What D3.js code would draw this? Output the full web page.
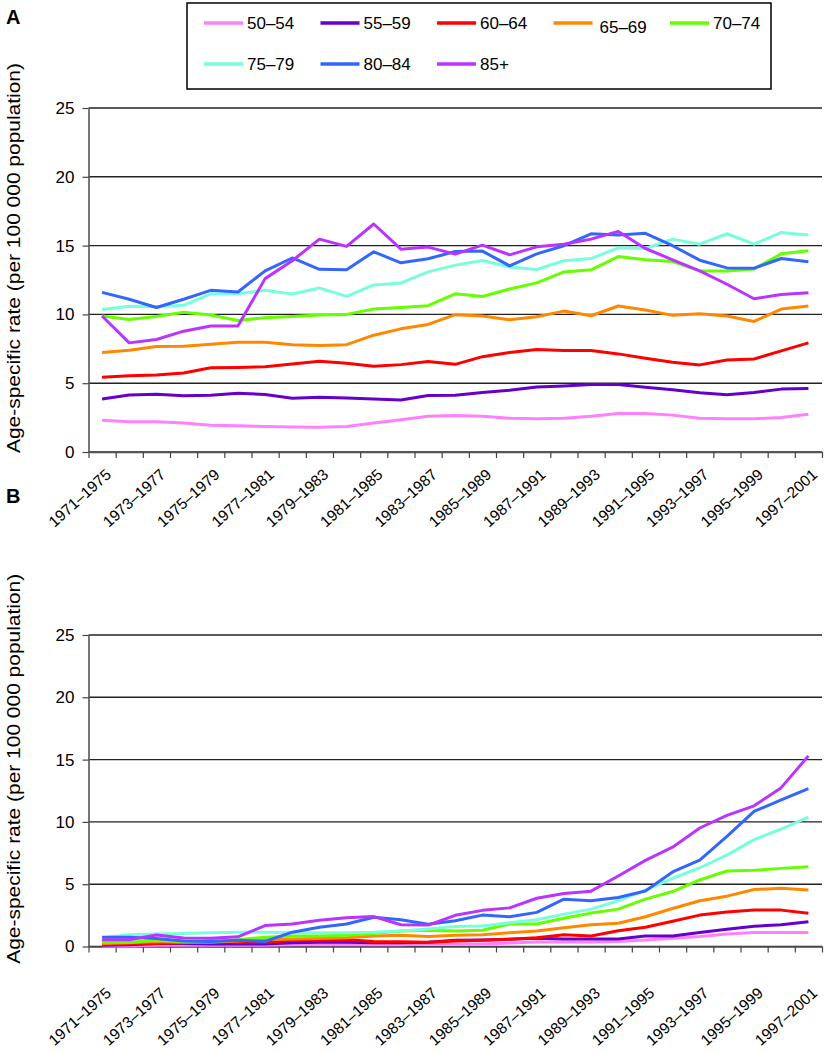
<!DOCTYPE html>
<html><head><meta charset="utf-8">
<script src="https://cdn.jsdelivr.net/npm/d3@7/dist/d3.min.js"></script>
<style>
body{margin:0;background:#fff;}
text{font-family:"Liberation Sans",Arial,Helvetica,sans-serif;fill:#000;}
</style></head>
<body>
<svg id="chart" width="825" height="1052"></svg>
<script>
const categories = ["1971–1975","1972–1976","1973–1977","1974–1978","1975–1979","1976–1980","1977–1981","1978–1982","1979–1983","1980–1984","1981–1985","1982–1986","1983–1987","1984–1988","1985–1989","1986–1990","1987–1991","1988–1992","1989–1993","1990–1994","1991–1995","1992–1996","1993–1997","1994–1998","1995–1999","1996–2000","1997–2001"];
const seriesNames = ["50–54","55–59","60–64","65–69","70–74","75–79","80–84","85+"];
const seriesColors = ["#ff80ff","#6600cc","#ff0000","#ff8800","#66ff00","#77ffdd","#3366ff","#bb33ff"];
const yTicks = [0,5,10,15,20,25];
const yTitle = "Age-specific rate (per 100 000 population)";

// Panel A values
const a50 = [2.3,2.2,2.2,2.1,1.95,1.9,1.85,1.82,1.8,1.85,2.1,2.35,2.6,2.65,2.6,2.45,2.42,2.45,2.6,2.8,2.8,2.68,2.45,2.42,2.42,2.5,2.75];
const a55 = [3.85,4.15,4.2,4.08,4.13,4.27,4.18,3.9,3.97,3.92,3.85,3.78,4.1,4.13,4.33,4.48,4.72,4.79,4.9,4.9,4.7,4.53,4.31,4.16,4.33,4.57,4.62];
const a60 = [5.43,5.55,5.6,5.74,6.12,6.15,6.2,6.4,6.6,6.45,6.23,6.35,6.57,6.37,6.93,7.23,7.45,7.37,7.37,7.13,6.81,6.52,6.33,6.69,6.76,7.35,7.93];
const a65 = [7.23,7.4,7.66,7.69,7.83,7.98,7.98,7.79,7.74,7.8,8.49,8.95,9.27,9.98,9.88,9.61,9.83,10.24,9.9,10.61,10.32,9.93,10.05,9.88,9.49,10.39,10.61];
const a70 = [9.88,9.63,9.85,10.15,9.95,9.56,9.76,9.85,9.95,10.0,10.39,10.51,10.63,11.5,11.3,11.85,12.29,13.09,13.24,14.2,13.97,13.84,13.16,13.16,13.3,14.4,14.62];
const a75 = [10.36,10.6,10.56,10.66,11.5,11.5,11.75,11.48,11.92,11.31,12.14,12.29,13.09,13.58,13.92,13.45,13.26,13.9,14.06,14.84,14.79,15.47,15.1,15.86,15.1,15.96,15.77];
const a80 = [11.6,11.1,10.5,11.1,11.75,11.63,13.16,14.1,13.28,13.24,14.55,13.75,14.04,14.57,14.6,13.53,14.4,14.99,15.86,15.77,15.89,14.99,13.94,13.38,13.36,14.06,13.82];
const a85 = [9.88,7.93,8.18,8.78,9.15,9.15,12.6,13.9,15.47,14.94,16.57,14.74,14.89,14.38,15.04,14.33,14.91,15.1,15.47,16.03,14.79,13.97,13.16,12.19,11.14,11.44,11.58];

// Panel B values
const b50 = [0.05,0.05,0.1,0.1,0.1,0.1,0.1,0.15,0.15,0.15,0.15,0.15,0.2,0.21,0.21,0.29,0.37,0.37,0.37,0.4,0.53,0.66,0.8,1.0,1.12,1.12,1.12];
const b55 = [0.1,0.15,0.25,0.25,0.2,0.2,0.2,0.3,0.35,0.35,0.3,0.3,0.35,0.5,0.53,0.58,0.66,0.61,0.61,0.61,0.85,0.85,1.12,1.38,1.62,1.75,1.99];
const b60 = [0.15,0.2,0.25,0.3,0.45,0.35,0.35,0.5,0.5,0.55,0.4,0.38,0.35,0.45,0.5,0.58,0.7,0.95,0.85,1.27,1.54,2.02,2.52,2.76,2.92,2.92,2.66];
const b65 = [0.25,0.3,0.4,0.35,0.35,0.45,0.55,0.6,0.65,0.7,0.85,0.9,0.8,0.9,0.95,1.1,1.25,1.5,1.75,1.86,2.39,3.05,3.67,4.04,4.57,4.67,4.54];
const b70 = [0.35,0.35,0.5,0.4,0.4,0.55,0.75,0.85,0.85,0.9,1.05,1.25,1.3,1.25,1.3,1.8,1.8,2.27,2.68,3.0,3.8,4.41,5.34,6.06,6.11,6.27,6.4];
const b75 = [0.7,0.95,1.0,1.05,1.1,1.15,1.15,1.1,1.1,1.1,1.15,1.25,1.4,1.6,1.65,1.9,2.15,2.6,3.0,3.67,4.52,5.47,6.32,7.33,8.58,9.43,10.39];
const b80 = [0.75,0.75,0.65,0.45,0.4,0.5,0.4,1.15,1.55,1.8,2.35,2.15,1.78,2.07,2.52,2.39,2.74,3.8,3.67,3.93,4.46,5.98,6.93,8.84,10.84,11.77,12.67];
const b85 = [0.55,0.55,0.92,0.68,0.66,0.78,1.68,1.8,2.1,2.3,2.4,1.75,1.72,2.5,2.9,3.1,3.87,4.25,4.44,5.66,6.91,7.97,9.51,10.52,11.29,12.75,15.3];

const panelA = [a50,a55,a60,a65,a70,a75,a80,a85];
const panelB = [b50,b55,b60,b65,b70,b75,b80,b85];

const svg = d3.select("#chart");
const xLeft = 88.5, xRight = 822;
const x = d3.scaleBand().domain(categories).range([xLeft, xRight]).padding(0);
const xb = d3.scaleLinear().domain([0, categories.length]).range([xLeft, xRight]);

function drawPanel(letter, letterY, top, bottom, data, labelGap) {
  const y = d3.scaleLinear().domain([0, 25]).range([bottom, top]);
  const g = svg.append("g");
  g.selectAll("line.grid").data(yTicks).join("line")
    .attr("x1", xLeft).attr("x2", xRight)
    .attr("y1", d => y(d)).attr("y2", d => y(d))
    .attr("stroke", "#222").attr("stroke-width", 1.4);
  const ya = g.append("g").attr("transform", `translate(${xLeft},0)`)
    .call(d3.axisLeft(y).tickValues(yTicks).tickSize(6).tickPadding(8).tickSizeOuter(0));
  ya.select(".domain").attr("stroke", "#555").attr("stroke-width", 1.6);
  ya.selectAll(".tick line").attr("stroke", "#444").attr("stroke-width", 1.2);
  ya.selectAll(".tick text").style("font-size", "17px").style("font-family", '"Liberation Sans",Arial,sans-serif').attr("fill", "#000");
  const xa = g.append("g").attr("transform", `translate(0,${bottom})`)
    .call(d3.axisBottom(xb).tickValues(d3.range(categories.length + 1)).tickSize(6).tickFormat("").tickSizeOuter(0));
  xa.select(".domain").attr("stroke", "#555").attr("stroke-width", 1.6);
  xa.selectAll(".tick line").attr("stroke", "#444").attr("stroke-width", 1.2);
  g.selectAll("text.xl").data(categories.filter((c, i) => i % 2 === 0)).join("text")
    .attr("class", "xl")
    .attr("text-anchor", "end")
    .attr("transform", d => `translate(${x(d) + x.bandwidth() / 2 + 10},${bottom + labelGap}) rotate(-42)`)
    .style("font-size", "15.5px")
    .text(d => d);
  const line = d3.line().x((d, i) => x(categories[i]) + x.bandwidth() / 2).y(d => y(d));
  g.selectAll("path.series").data(data).join("path")
    .attr("fill", "none")
    .attr("stroke", (d, i) => seriesColors[i])
    .attr("stroke-width", 3)
    .attr("stroke-linejoin", "round")
    .attr("d", line);
  g.append("text")
    .attr("transform", `translate(20,${(top + bottom) / 2 - 22}) rotate(-90)`)
    .attr("text-anchor", "middle")
    .attr("textLength", 390).attr("lengthAdjust", "spacingAndGlyphs")
    .style("font-size", "19px")
    .text(yTitle);
  g.append("text").attr("x", 6).attr("y", letterY)
    .style("font-size", "20px").style("font-weight", "bold").text(letter);
}

drawPanel("A", 24, 108, 452, panelA, 24);
drawPanel("B", 503, 635, 946.5, panelB, 48);

const lg = svg.append("g");
lg.append("rect").attr("x", 187).attr("y", 3).attr("width", 584).attr("height", 86)
  .attr("fill", "#fff").attr("stroke", "#000").attr("stroke-width", 1.5);
const items = lg.selectAll("g.item").data(seriesNames).join("g")
  .attr("transform", (d, i) => `translate(${204 + (i % 5) * 116.5},${i < 5 ? 23 : 64})`);
items.append("line").attr("x1", 0).attr("x2", 39).attr("y1", 0).attr("y2", 0)
  .attr("stroke", (d, i) => seriesColors[i]).attr("stroke-width", 3.5);
items.append("text").attr("x", (d, i) => i === 3 ? 46 : 43).attr("y", (d, i) => i === 3 ? 10 : 6)
  .style("font-size", "17px").text(d => d);
</script>
</body></html>
